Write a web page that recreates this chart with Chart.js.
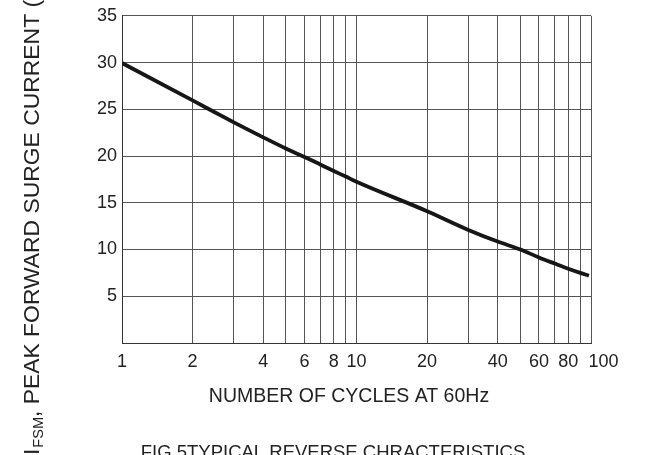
<!DOCTYPE html>
<html><head><meta charset="utf-8">
<script src="https://cdn.jsdelivr.net/npm/chart.js@4/dist/chart.umd.min.js"></script>
<style>html,body{margin:0;padding:0;background:#fff}#wrap{width:660px;height:455px;position:relative}</style>
</head><body><div id="wrap"><canvas id="c"></canvas></div>
<script>
const cycles = [1, 2, 3, 4, 5, 6, 7, 8, 9, 10, 20, 30, 40, 50, 60, 70, 80, 90, 98];
const surgeCurrent = [29.95, 25.95, 23.6, 22.0, 20.8, 19.9, 19.1, 18.4, 17.8, 17.25, 14.1, 12.1, 10.85, 10.0, 9.15, 8.5, 7.95, 7.5, 7.2];
const xGridValues = [1, 2, 3, 4, 5, 6, 7, 8, 9, 10, 20, 30, 40, 50, 60, 70, 80, 90, 100];
const xTickLabels = [1, 2, 4, 6, 8, 10, 20, 40, 60, 80, 100];
const yTickValues = [0, 5, 10, 15, 20, 25, 30, 35];
const yTitleMain = 'I';
const yTitleSub = 'FSM';
const yTitleRest = ', PEAK FORWARD SURGE CURRENT (A)';
const xTitle = 'NUMBER OF CYCLES AT 60Hz';
const figCaption = 'FIG 5TYPICAL REVERSE CHRACTERISTICS';

const FONT = '"Liberation Sans", Arial, Helvetica, sans-serif';
const TXT = '#222';

const textPlugin = {
  id: 'extraText',
  afterDraw(chart) {
    const ctx = chart.ctx;
    // rotated y-axis title with subscript
    ctx.save();
    ctx.fillStyle = TXT;
    ctx.translate(39, 455);
    ctx.rotate(-Math.PI / 2);
    ctx.textAlign = 'left';
    ctx.textBaseline = 'alphabetic';
    ctx.font = '22.9px ' + FONT;
    let x = 0;
    ctx.fillText(yTitleMain, x, 0);
    x += ctx.measureText(yTitleMain).width + 1;
    ctx.font = '14.5px ' + FONT;
    ctx.fillText(yTitleSub, x, 4);
    x += ctx.measureText(yTitleSub).width;
    ctx.font = '22.9px ' + FONT;
    ctx.fillText(yTitleRest, x, 0);
    ctx.restore();
    // x-axis title
    ctx.save();
    ctx.fillStyle = TXT;
    ctx.font = '19.5px ' + FONT;
    ctx.textAlign = 'center';
    ctx.textBaseline = 'middle';
    ctx.fillText(xTitle, 349, 397);
    ctx.restore();
    // figure caption
    ctx.save();
    ctx.fillStyle = TXT;
    ctx.font = '18.5px ' + FONT;
    ctx.textAlign = 'center';
    ctx.textBaseline = 'alphabetic';
    ctx.fillText(figCaption, 333, 458);
    ctx.restore();
  }
};

new Chart(document.getElementById('c'), {
  type: 'line',
  data: {
    datasets: [{
      data: cycles.map((c, i) => ({ x: c, y: surgeCurrent[i] })),
      borderColor: '#161616',
      borderWidth: 3.8,
      pointRadius: 0,
      fill: false,
      cubicInterpolationMode: 'monotone',
      borderCapStyle: 'butt'
    }]
  },
  options: {
    responsive: true,
    maintainAspectRatio: false,
    animation: false,
    events: [],
    layout: { padding: { top: 15, right: 69, bottom: 0, left: 0 } },
    plugins: { legend: { display: false }, tooltip: { enabled: false }, title: { display: false } },
    scales: {
      x: {
        type: 'logarithmic',
        min: 1,
        max: 100,
        afterBuildTicks(scale) { scale.ticks = xGridValues.map(v => ({ value: v })); },
        afterFit(scale) { scale.height = 112; },
        ticks: {
          autoSkip: false,
          maxRotation: 0,
          minRotation: 0,
          padding: 8,
          color: TXT,
          font: { family: FONT, size: 18 },
          callback: (v) => xTickLabels.includes(v) ? (v === 100 ? '\u00a0\u00a0\u00a0\u00a0\u00a0100' : String(v)) : ''
        },
        grid: { color: '#555', lineWidth: 1, drawTicks: false },
        border: { display: true, color: '#333', width: 1 },
        title: { display: false }
      },
      y: {
        type: 'linear',
        min: 0,
        max: 35,
        afterBuildTicks(scale) { scale.ticks = yTickValues.map(v => ({ value: v })); },
        afterFit(scale) { scale.width = 122; },
        ticks: {
          padding: 5,
          color: TXT,
          font: { family: FONT, size: 18 },
          callback: (v) => v === 0 ? '' : String(v)
        },
        grid: { color: '#555', lineWidth: 1, drawTicks: false },
        border: { display: true, color: '#333', width: 1 }
      }
    }
  },
  plugins: [textPlugin]
});
</script>
</body></html>
